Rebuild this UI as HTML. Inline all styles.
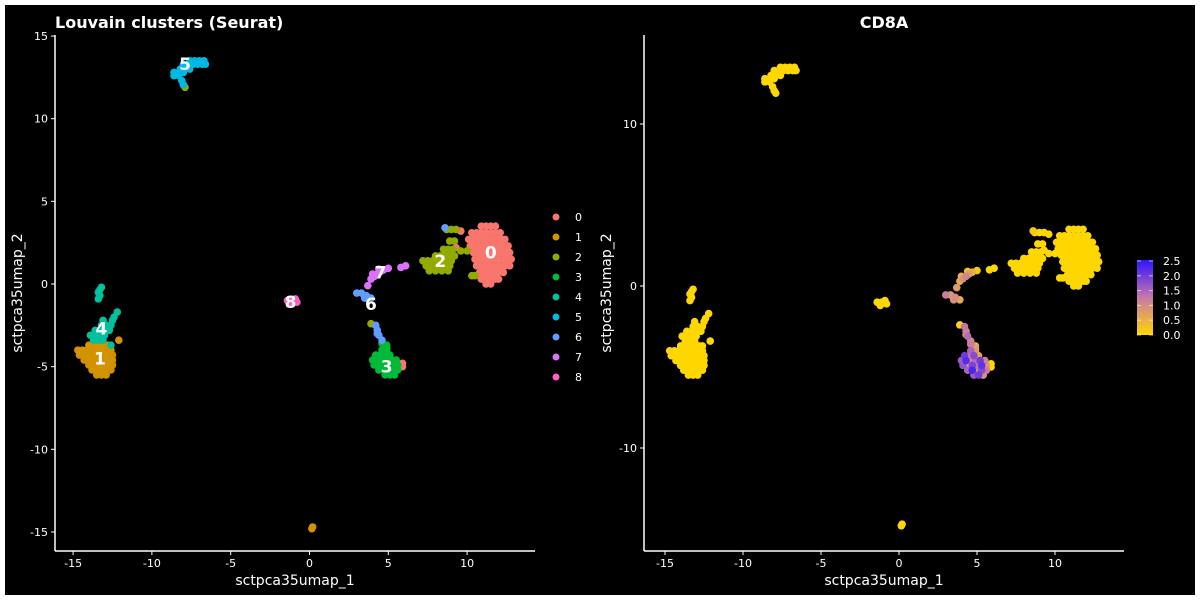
<!DOCTYPE html>
<html><head><meta charset="utf-8"><style>
body{margin:0;background:#fff;width:1200px;height:600px;overflow:hidden}
svg{display:block;font-family:"DejaVu Sans","Liberation Sans",sans-serif}
</style></head><body>
<svg id="s" width="1200" height="600" xmlns="http://www.w3.org/2000/svg">
<rect x="5" y="5" width="1190" height="590" fill="#000"/>
</svg>
<script>
// cluster data: rows [y, [x...]]
const clusterNames=["0","1","2","3","4","5","6","7","8"];
const clusterColors=["#F8766D","#D39200","#93AA00","#00BA38","#00C19F","#00B9E3","#619CFF","#DB72FB","#FF61C3"];
const c0=[[3.5,[10.9,11.2,11.5,11.8]],[3.1,[10.3,10.6,10.9,11.2,11.5,11.8,12.1]],[2.7,[10.1,10.4,10.7,11.0,11.3,11.6,11.9,12.2,12.4]],[2.3,[10.2,10.5,10.8,11.1,11.4,11.7,12.0,12.3,12.6]],[1.9,[10.4,10.7,11.0,11.3,11.6,11.9,12.2,12.5,12.7]],[1.5,[10.5,10.8,11.1,11.4,11.7,12.0,12.3,12.6,12.8]],[1.1,[10.6,10.9,11.2,11.5,11.8,12.1,12.4,12.7]],[0.7,[10.8,11.1,11.4,11.7,12.0,12.3]],[0.3,[10.9,11.2,11.5,11.8,12.0]],[0.0,[11.2,11.5]],[3.2,[9.6]],[2.2,[9.3]],[-5.0,[5.9]],[-4.8,[5.9]]];
const c1=[[-3.7,[-14.0,-13.7,-13.4,-13.1,-12.8]],[-4.0,[-14.7,-14.4,-14.1,-13.8,-13.5,-13.2,-12.9,-12.6]],[-4.3,[-14.6,-14.3,-14.0,-13.7,-13.4,-13.1,-12.8,-12.5]],[-4.6,[-14.3,-14.0,-13.7,-13.4,-13.1,-12.8,-12.5]],[-4.9,[-14.0,-13.7,-13.4,-13.1,-12.8,-12.5]],[-5.2,[-13.8,-13.5,-13.2,-12.9,-12.6]],[-5.5,[-13.5,-13.2,-12.9]],[-14.8,[0.15]],[-14.7,[0.2]],[-3.4,[-12.1]]];
const c2=[[1.7,[8.0,8.3,8.6,8.9,9.2]],[1.4,[7.2,7.5,7.8,8.1,8.4,8.7,9.0]],[1.1,[7.4,7.7,8.0,8.3,8.6,8.9]],[0.8,[7.6,8.0,8.4,8.8]],[2.1,[8.5,8.8,9.1]],[2.6,[8.9,9.2]],[3.3,[8.7,9.0,9.3]],[2.0,[9.6,10.0]],[0.5,[10.3,10.5]],[-2.4,[3.9]],[-3.9,[4.9]],[11.9,[-7.9]]];
const c3=[[-4.0,[4.6,4.9]],[-4.3,[4.2,4.5,4.8,5.1]],[-4.6,[4.0,4.3,4.6,4.9,5.2,5.5]],[-4.9,[4.1,4.4,4.7,5.0,5.3,5.6]],[-5.2,[4.4,4.7,5.0,5.3,5.6]],[-5.5,[4.8,5.1,5.4]],[-3.6,[4.6]],[-3.7,[4.9]]];
const c4=[[-0.2,[-13.2]],[-0.35,[-13.3]],[-0.5,[-13.4]],[-0.7,[-13.3]],[-0.9,[-13.4]],[-1.7,[-12.2]],[-2.0,[-12.4]],[-2.2,[-12.5,-13.1]],[-2.5,[-12.6,-12.9,-13.2]],[-2.8,[-12.7,-13.0,-13.3,-13.6]],[-3.1,[-13.0,-13.3,-13.6,-13.9]],[-3.4,[-13.1,-13.4,-13.7]],[-3.7,[-12.6]]];
const c5=[[13.5,[-7.6,-7.3,-7.0,-6.7]],[13.3,[-8.0,-7.7,-7.4,-7.1,-6.8,-6.6]],[13.0,[-8.2,-7.9,-7.6]],[12.8,[-8.6,-8.3,-8.0]],[12.6,[-8.6,-8.3]],[12.3,[-8.1]],[12.05,[-8.0]]];
const c6=[[-0.55,[3.0,3.3]],[-0.7,[3.6]],[-0.85,[3.9,3.5]],[-2.5,[4.2]],[-2.8,[4.3]],[-3.0,[4.3]],[-3.1,[4.4]],[-3.4,[4.6]],[3.4,[8.6]]];
const c7=[[0.3,[3.9]],[0.45,[4.1]],[0.6,[4.3,4.0]],[0.75,[4.5]],[0.85,[4.7]],[0.9,[4.4]],[0.95,[5.0]],[1.0,[5.8]],[1.1,[6.1]],[-0.1,[3.7]]];
const c8=[[-1.0,[-1.4,-1.1]],[-1.1,[-0.8]],[-1.2,[-1.2]],[-0.9,[-0.9]]];
const clusters=[c0,c1,c2,c3,c4,c5,c6,c7,c8];
// CD8A expression per point (clusters 3,6,7; others 0)
const expr3=[1.5,0.8,2.0,1.2,1.8,0.6,1.6,2.2,0.9,1.4,2.0,1.1,1.7,0.7,1.9,1.3,2.1,0.8,1.5,2.3,1.0,1.8,1.2,1.6,2.0,0.9,1.2,0.6];
const expr6=[1.2,0.8,1.0,0.6,0.9,1.3,1.1,0.7,1.4,1.0,0.2];
const expr7=[0.6,0.9,1.1,0.4,0.7,0.5,0.3,0.2,0.0,0.0,0.8];
const exprMap={3:expr3,6:expr6,7:expr7};
const labelPos=[[11.5,1.9],[-13.3,-4.5],[8.3,1.4],[4.9,-5.0],[-13.2,-2.7],[-7.9,13.3],[3.9,-1.2],[4.5,0.7],[-1.2,-1.1]];
const xTicks=[-15,-10,-5,0,5,10];
const yTicksL=[-15,-10,-5,0,5,10,15];
const yTicksR=[-10,0,10];
const cbTicks=[0,0.5,1,1.5,2,2.5];

const S=document.getElementById('s');const NS="http://www.w3.org/2000/svg";
function mk(t,a,p){const e=document.createElementNS(NS,t);for(const k in a)e.setAttribute(k,a[k]);(p||S).appendChild(e);return e;}
const L={x:v=>309.5+v*15.76,y:v=>284-v*16.53,ax:55,ay:551,x2:535};
const R={x:v=>899+v*15.6,y:v=>286-v*16.2,ax:644,ay:551,x2:1124};
const PR=3.8;
function exCol(v){const t=Math.max(0,Math.min(1,v/2.5));
 const a=[255,215,0],m=[200,120,170],b=[50,20,255];let c;
 if(t<0.5){const u=t/0.5;c=a.map((q,i)=>q+(m[i]-q)*u);}else{const u=(t-0.5)/0.5;c=m.map((q,i)=>q+(b[i]-q)*u);}
 return `rgb(${c.map(Math.round).join(',')})`;}
function axes(P,yt,name){
 const g=mk('g',{});
 
 
 mk('line',{x1:P.ax,y1:35,x2:P.ax,y2:P.ay,stroke:'#fff','stroke-width':1.5},g);
 mk('line',{x1:P.ax,y1:P.ay,x2:P.x2,y2:P.ay,stroke:'#fff','stroke-width':1.5},g);
 xTicks.forEach(v=>{const x=P.x(v);mk('line',{x1:x,y1:P.ay,x2:x,y2:P.ay+4,stroke:'#fff'},g);
  const t=mk('text',{x:x,y:P.ay+16,fill:'#fff','font-size':11,'text-anchor':'middle'},g);t.textContent=v;
  });
 yt.forEach(v=>{const y=P.y(v);mk('line',{x1:P.ax-4,y1:y,x2:P.ax,y2:y,stroke:'#fff'},g);
  const t=mk('text',{x:P.ax-7,y:y+4,fill:'#fff','font-size':11,'text-anchor':'end'},g);t.textContent=v;
  });
 const xt=mk('text',{x:(P.ax+P.x2)/2,y:585,fill:'#fff','font-size':14,'text-anchor':'middle'},g);xt.textContent='sctpca35umap_1';
 
 const yx=P.ax-33;const ytl=mk('text',{x:yx,y:293,fill:'#fff','font-size':14,'text-anchor':'middle',transform:`rotate(-90 ${yx} 293)`},g);ytl.textContent='sctpca35umap_2';
 
}
axes(L,yTicksL,'left-panel');axes(R,yTicksR,'right-panel');
// left points
const gl=mk('g',{});
clusters.forEach((cl,ci)=>{cl.forEach(r=>r[1].forEach(x=>{const c=mk('circle',{cx:L.x(x),cy:L.y(r[0]),r:PR,fill:clusterColors[ci]},gl);
 }));});
// right points
const gr=mk('g',{});
const pts=[];
clusters.forEach((cl,ci)=>{let k=0;const ex=exprMap[ci];cl.forEach(r=>r[1].forEach(x=>{pts.push([x,r[0],ex?ex[k]||0:0]);k++;}));});
pts.sort((a,b)=>a[2]-b[2]).forEach(p=>{const c=mk('circle',{cx:R.x(p[0]),cy:R.y(p[1]),r:PR,fill:exCol(p[2])},gr);
 });
// cluster labels
labelPos.forEach((p,i)=>{const t=mk('text',{x:L.x(p[0]),y:L.y(p[1])+6,fill:'#fff','font-size':17,'font-weight':'bold','text-anchor':'middle'});t.textContent=clusterNames[i];
 });
// legend
clusterNames.forEach((n,i)=>{const y=217+20*i;const c=mk('circle',{cx:556,cy:y,r:3.5,fill:clusterColors[i]});
 
 const t=mk('text',{x:575,y:y+4,fill:'#fff','font-size':11});t.textContent=n;
 });
// titles
let t=mk('text',{x:55,y:28,fill:'#fff','font-size':16,'font-weight':'bold'});t.textContent='Louvain clusters (Seurat)';

t=mk('text',{x:884,y:28,fill:'#fff','font-size':16,'font-weight':'bold','text-anchor':'middle'});t.textContent='CD8A';

// colorbar
const defs=mk('defs',{});const lg=mk('linearGradient',{id:'cb',x1:0,y1:1,x2:0,y2:0},defs);
[0,0.25,0.5,0.75,1].forEach(o=>mk('stop',{offset:o,'stop-color':exCol(o*2.5)},lg));
const cb=mk('rect',{x:1137,y:260,width:16,height:75,fill:'url(#cb)'});

cbTicks.forEach(v=>{const y=335-v/2.5*74;
 mk('line',{x1:1137,y1:y,x2:1141,y2:y,stroke:'#fff','stroke-opacity':0.6});mk('line',{x1:1149,y1:y,x2:1153,y2:y,stroke:'#fff','stroke-opacity':0.6});
 const l=mk('text',{x:1163,y:y+4,fill:'#fff','font-size':11});l.textContent=v.toFixed(1);
 });
</script>
</body></html>
